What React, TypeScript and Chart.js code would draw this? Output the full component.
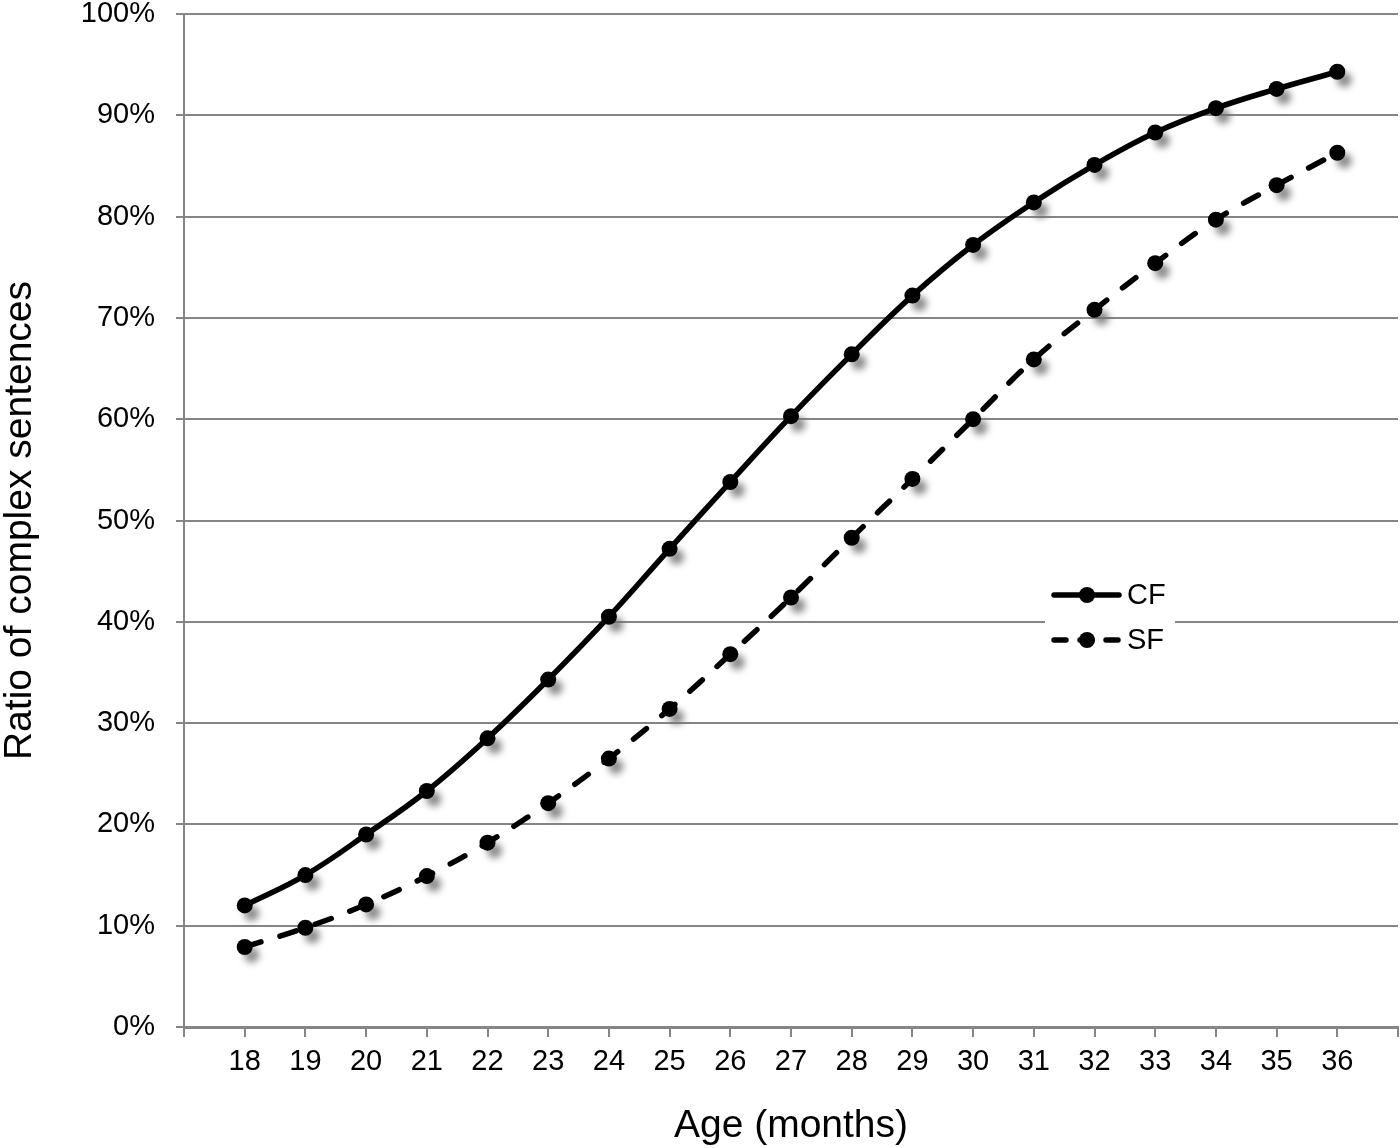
import { Chart, registerables } from 'chart.js';
import { useEffect, useRef } from 'react';

Chart.register(...registerables);

// ages (months) and the two series, in percent
const ages = [18, 19, 20, 21, 22, 23, 24, 25, 26, 27, 28, 29, 30, 31, 32, 33, 34, 35, 36];
const cfValues = [12.0, 15.0, 19.0, 23.3, 28.5, 34.3, 40.5, 47.2, 53.8, 60.3, 66.4, 72.2, 77.2, 81.4, 85.1, 88.3, 90.7, 92.6, 94.3];
const sfValues = [7.9, 9.8, 12.1, 14.9, 18.2, 22.1, 26.5, 31.4, 36.8, 42.4, 48.3, 54.1, 60.0, 65.9, 70.8, 75.4, 79.7, 83.1, 86.3];
const seriesLabels = ['CF', 'SF'];

const FONT = "'Liberation Sans', Arial, sans-serif";
const GRID = '#858585';

// soft grey drop shadow under each marker
const markerShadow = {
  id: 'markerShadow',
  beforeDatasetsDraw(chart: any) {
    const ctx = chart.ctx;
    ctx.save();
    ctx.filter = 'blur(3.5px)';
    ctx.fillStyle = 'rgba(110,110,110,0.8)';
    chart.data.datasets.forEach((_: any, i: number) => {
      const meta = chart.getDatasetMeta(i);
      meta.data.forEach((pt: any) => {
        ctx.beginPath();
        ctx.arc(pt.x + 7, pt.y + 8, 7.5, 0, Math.PI * 2);
        ctx.fill();
      });
    });
    ctx.restore();
  },
};

// legend drawn inside the plot area
const innerLegend = {
  id: 'innerLegend',
  afterDraw(chart: any) {
    const ctx = chart.ctx;
    const x0 = 1045;
    const rows = [595, 640];
    ctx.save();
    ctx.fillStyle = '#fff';
    ctx.fillRect(x0, 574, 130, 90);
    chart.data.datasets.forEach((ds: any, i: number) => {
      const y = rows[i];
      ctx.strokeStyle = '#000';
      ctx.lineWidth = 5.5;
      ctx.lineCap = 'round';
      ctx.setLineDash(ds.borderDash && ds.borderDash.length ? [12, 14] : []);
      ctx.beginPath();
      ctx.moveTo(x0 + 9, y);
      ctx.lineTo(x0 + 74, y);
      ctx.stroke();
      ctx.setLineDash([]);
      ctx.fillStyle = '#000';
      ctx.beginPath();
      ctx.arc(x0 + 42, y, 8, 0, Math.PI * 2);
      ctx.fill();
      ctx.font = `29px ${FONT}`;
      ctx.textBaseline = 'middle';
      ctx.textAlign = 'left';
      ctx.fillText(ds.label, x0 + 82, y + 1);
    });
    ctx.restore();
  },
};

export default function App() {
  const canvasRef = useRef<HTMLCanvasElement | null>(null);

  useEffect(() => {
    if (!canvasRef.current) return;
    document.body.style.margin = '0';

    const chart = new Chart(canvasRef.current, {
      type: 'line',
      data: {
        datasets: [
          {
            label: seriesLabels[0],
            data: ages.map((a, i) => ({ x: a, y: cfValues[i] })),
            borderColor: '#000',
            backgroundColor: '#000',
            borderWidth: 5.5,
            tension: 0.4,
            pointRadius: 8,
            pointBorderWidth: 0,
            pointBackgroundColor: '#000',
          },
          {
            label: seriesLabels[1],
            data: ages.map((a, i) => ({ x: a, y: sfValues[i] })),
            borderColor: '#000',
            backgroundColor: '#000',
            borderWidth: 5.5,
            borderDash: [17, 20],
            borderCapStyle: 'round',
            tension: 0.4,
            pointRadius: 8,
            pointBorderWidth: 0,
            pointBackgroundColor: '#000',
          },
        ],
      },
      options: {
        animation: false,
        responsive: false,
        maintainAspectRatio: false,
        layout: { autoPadding: false, padding: { top: 14, right: 2, left: 0, bottom: 0 } },
        plugins: {
          legend: { display: false },
          tooltip: { enabled: false },
        },
        scales: {
          x: {
            type: 'linear',
            min: 17,
            max: 37,
            afterFit: (s: any) => {
              s.height = 121;
              s.paddingLeft = 0;
              s.paddingRight = 0;
            },
            ticks: {
              stepSize: 1,
              padding: 8,
              color: '#000',
              font: { family: FONT, size: 29 },
              callback: (v: any) => (v >= ages[0] && v <= ages[ages.length - 1] ? String(v) : ''),
            },
            grid: {
              drawOnChartArea: false,
              drawTicks: true,
              tickLength: 10,
              color: GRID,
              lineWidth: 2,
            },
            border: { display: true, color: GRID, width: 3 },
            title: {
              display: true,
              text: 'Age (months)',
              color: '#000',
              font: { family: FONT, size: 39, lineHeight: 1 },
              padding: { top: 2, bottom: 2 },
            },
          },
          y: {
            min: 0,
            max: 100,
            afterFit: (s: any) => {
              s.width = 184;
              s.paddingTop = 0;
              s.paddingBottom = 0;
            },
            ticks: {
              stepSize: 10,
              padding: 21,
              color: '#000',
              font: { family: FONT, size: 29 },
              callback: (v: any) => `${v}%`,
            },
            grid: {
              color: GRID,
              lineWidth: 2,
              tickLength: 8,
            },
            border: { display: true, color: GRID, width: 2 },
            title: {
              display: true,
              text: 'Ratio of complex sentences',
              color: '#000',
              font: { family: FONT, size: 39, lineHeight: 1 },
              padding: { top: 1, bottom: 0 },
            },
          },
        },
      },
      plugins: [markerShadow, innerLegend],
    });

    return () => {
      chart.destroy();
    };
  }, []);

  return (
    <div style={{ width: 1400, height: 1148, background: '#fff' }}>
      <canvas ref={canvasRef} width={1400} height={1148} style={{ width: 1400, height: 1148 }} />
    </div>
  );
}
